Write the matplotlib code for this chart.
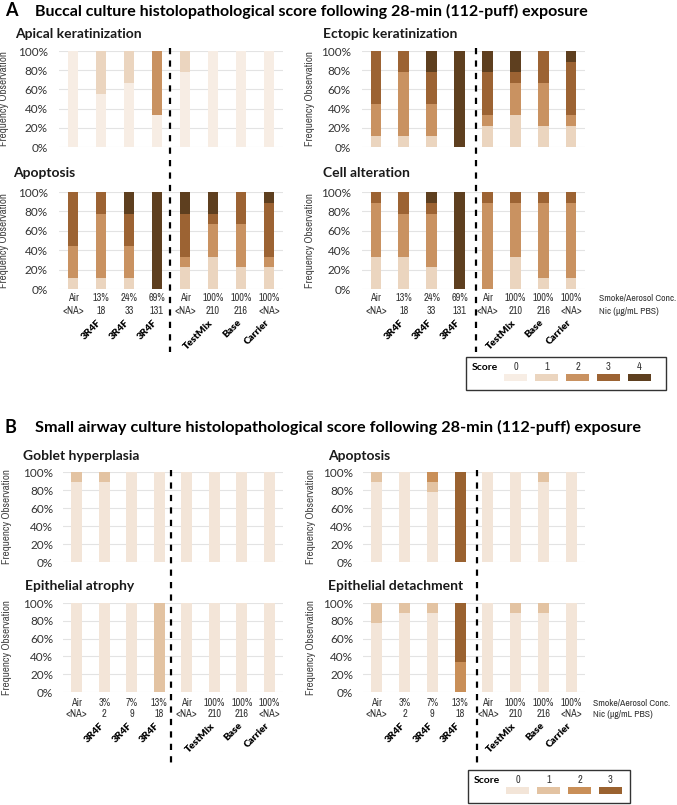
import os
import matplotlib
matplotlib.use("Agg")
import matplotlib.pyplot as plt
import numpy as np
from matplotlib import font_manager as fm
from matplotlib.patches import Rectangle
from matplotlib.lines import Line2D

# Counts of observations per score (0..4) for each bar, out of 9 inserts
buccal_apical = [[9, 0, 0, 0, 0], [5, 4, 0, 0, 0], [6, 3, 0, 0, 0], [3, 0, 6, 0, 0],
                 [7, 2, 0, 0, 0], [9, 0, 0, 0, 0], [9, 0, 0, 0, 0], [9, 0, 0, 0, 0]]
buccal_ectopic = [[0, 1, 3, 5, 0], [0, 1, 6, 2, 0], [0, 1, 3, 3, 2], [0, 0, 0, 0, 9],
                  [0, 2, 1, 4, 2], [0, 3, 3, 1, 2], [0, 2, 4, 3, 0], [0, 2, 1, 5, 1]]
buccal_apoptosis = [[0, 1, 3, 5, 0], [0, 1, 6, 2, 0], [0, 1, 3, 3, 2], [0, 0, 0, 0, 9],
                    [0, 2, 1, 4, 2], [0, 3, 3, 1, 2], [0, 2, 4, 3, 0], [0, 2, 1, 5, 1]]
buccal_cell_alt = [[0, 3, 5, 1, 0], [0, 3, 4, 2, 0], [0, 2, 5, 1, 1], [0, 0, 0, 0, 9],
                   [0, 0, 8, 1, 0], [0, 3, 5, 1, 0], [0, 1, 7, 1, 0], [0, 1, 7, 1, 0]]

# Counts per score (0..3) for the small airway culture
sa_goblet = [[8, 1, 0, 0], [8, 1, 0, 0], [9, 0, 0, 0], [9, 0, 0, 0],
             [9, 0, 0, 0], [9, 0, 0, 0], [9, 0, 0, 0], [9, 0, 0, 0]]
sa_apoptosis = [[8, 1, 0, 0], [9, 0, 0, 0], [7, 1, 1, 0], [0, 0, 0, 9],
                [9, 0, 0, 0], [9, 0, 0, 0], [8, 1, 0, 0], [9, 0, 0, 0]]
sa_atrophy = [[9, 0, 0, 0], [9, 0, 0, 0], [9, 0, 0, 0], [0, 9, 0, 0],
              [9, 0, 0, 0], [9, 0, 0, 0], [9, 0, 0, 0], [9, 0, 0, 0]]
sa_detachment = [[7, 2, 0, 0], [8, 1, 0, 0], [8, 1, 0, 0], [0, 0, 3, 6],
                 [9, 0, 0, 0], [8, 1, 0, 0], [8, 1, 0, 0], [9, 0, 0, 0]]

buccal_conc = ["Air", "13%", "24%", "69%", "Air", "100%", "100%", "100%"]
buccal_nic = ["<NA>", "18", "33", "131", "<NA>", "210", "216", "<NA>"]
sa_conc = ["Air", "3%", "7%", "13%", "Air", "100%", "100%", "100%"]
sa_nic = ["<NA>", "2", "9", "18", "<NA>", "210", "216", "<NA>"]
products = ["", "3R4F", "3R4F", "3R4F", "", "TestMix", "Base", "Carrier"]

buccal_colors = ["#F7EDE4", "#EBD5BF", "#C99261", "#9C6333", "#5E3F1F"]
sa_colors = ["#F3E5D8", "#E3C3A2", "#C98F58", "#9A6230"]

W, H = 677, 805
MAIN = ["Lato", "DejaVu Sans"]


def find_narrow():
    """Look for an installed condensed / narrow regular face"""
    best, best_rank = None, 99
    for f in fm.fontManager.ttflist:
        fn = os.path.basename(f.fname).lower()
        nm = f.name.lower()
        st = str(f.stretch).lower()
        if not ("condensed" in st or "condensed" in fn or "narrow" in fn
                or "narrow" in nm or "condensed" in nm):
            continue
        if f.style != "normal" or "italic" in fn:
            continue
        if any(k in fn for k in ("black", "heavy", "bold", "light", "thin",
                                 "medium")):
            continue
        w = f.weight if isinstance(f.weight, int) else fm.weight_dict.get(f.weight, 400)
        if not 350 <= w <= 450:
            continue
        rank = 0
        if "semi" in fn or "semi" in st:
            rank = 1
        if "extra" in fn or "ultra" in fn or "extra" in st or "ultra" in st:
            rank = 3
        if "dejavu" in fn:
            rank += 1
        if rank < best_rank:
            best, best_rank = f.fname, rank
    return best


NARROW_REG = find_narrow()


def narrow(size):
    if NARROW_REG is not None:
        return fm.FontProperties(fname=NARROW_REG, size=size)
    return fm.FontProperties(family="Roboto", size=size * 0.85)


fig = plt.figure(figsize=(W / 100, H / 100), dpi=100)


def px_axes(x0, y0, x1, y1):
    return fig.add_axes([x0 / W, 1 - y1 / H, (x1 - x0) / W, (y1 - y0) / H])


def ftext(x, y, s, **kw):
    fig.text(x / W, 1 - y / H, s, **kw)


def draw_panel(rect, counts, colors, title, title_xy, ylab_x, pad):
    """Stacked percentage bars for one histopathology endpoint"""
    ax = px_axes(*rect)
    c = np.array(counts, dtype=float)
    pct = c / c.sum(axis=1, keepdims=True) * 100
    x = np.arange(len(pct))
    bottom = np.zeros(len(pct))
    for s in range(pct.shape[1]):
        ax.bar(x, pct[:, s], bottom=bottom, width=0.39, color=colors[s],
               linewidth=0, zorder=2)
        bottom += pct[:, s]
    ax.set_xlim(-0.5, 7.5)
    ax.set_ylim(0, 100)
    ax.set_yticks(np.arange(0, 101, 20))
    ax.set_yticklabels(["{}%".format(v) for v in range(0, 101, 20)],
                       family=MAIN)
    ax.set_xticks([])
    ax.yaxis.grid(True, color="#E3E3E3", linewidth=0.8)
    ax.set_axisbelow(True)
    for sp in ax.spines.values():
        sp.set_visible(False)
    ax.tick_params(length=0, pad=pad, labelsize=8.5, labelcolor="#333333")
    ax.set_ylabel("Frequency Observation", fontproperties=narrow(8),
                  color="#444444")
    ax.yaxis.set_label_coords((ylab_x - rect[0]) / (rect[2] - rect[0]), 0.5)
    ftext(title_xy[0], title_xy[1], title, family=MAIN, fontweight="bold",
          fontsize=10, ha="left", va="center", color="#1a1a1a")
    return ax


def add_xlabels(ax, rect, conc, nic, y_rows, side=None):
    h = rect[3] - rect[1]
    tr = ax.get_xaxis_transform()
    for i in range(len(conc)):
        for lab, yp in zip([conc[i], nic[i]], y_rows[:2]):
            ax.text(i, (rect[3] - yp) / h, lab, transform=tr, ha="center",
                    va="center", fontproperties=narrow(7.4), color="#333333")
        if products[i]:
            ax.text(i + 0.08, (rect[3] - y_rows[2]) / h, products[i],
                    transform=tr, ha="right", va="top", rotation=45,
                    family=MAIN, fontweight="heavy", fontsize=7.2,
                    color="black")
    if side is not None:
        ftext(side, y_rows[0], "Smoke/Aerosol Conc.",
              fontproperties=narrow(7.0), ha="left", va="center",
              color="#333333")
        ftext(side, y_rows[1], "Nic (\u00b5g/mL PBS)",
              fontproperties=narrow(7.0), ha="left", va="center",
              color="#333333")


def dashed(x, y0, y1):
    fig.add_artist(Line2D([x / W, x / W], [1 - y0 / H, 1 - y1 / H],
                          transform=fig.transFigure, color="black",
                          linewidth=1.6, linestyle=(0, (2.8, 2.8))))


def score_legend(box, colors, centers):
    x0, y0, x1, y1 = box
    fig.add_artist(Rectangle((x0 / W, 1 - y1 / H), (x1 - x0) / W,
                             (y1 - y0) / H, transform=fig.transFigure,
                             fill=False, edgecolor="#333333", linewidth=1))
    ty = y0 + 10
    ftext(x0 + 6, ty, "Score", family=MAIN, fontweight="bold", fontsize=7.5,
          ha="left", va="center")
    for i, (col, cx) in enumerate(zip(colors, centers)):
        ftext(cx, ty, str(i), fontproperties=narrow(7.5), ha="center",
              va="center", color="#333333")
        fig.add_artist(Rectangle(((cx - 11.5) / W, 1 - (y0 + 24) / H),
                                 23 / W, 7 / H, transform=fig.transFigure,
                                 facecolor=col, edgecolor="none"))


# Panel A: buccal culture
ftext(5, 11, "A", family=MAIN, fontweight="bold", fontsize=13, ha="left",
      va="center")
ftext(35, 11, "Buccal culture histolopathological score following 28-min "
      "(112-puff) exposure", family=MAIN, fontweight="bold", fontsize=11.5,
      ha="left", va="center")

rA1 = (59, 51, 283, 147)
rA2 = (362, 51, 585, 147)
rA3 = (59, 192, 283, 289)
rA4 = (362, 192, 585, 289)
draw_panel(rA1, buccal_apical, buccal_colors, "Apical keratinization",
           (15, 34), 9, 8)
draw_panel(rA2, buccal_ectopic, buccal_colors, "Ectopic keratinization",
           (323, 34), 315, 8)
axA3 = draw_panel(rA3, buccal_apoptosis, buccal_colors, "Apoptosis",
                  (13, 173), 9, 8)
axA4 = draw_panel(rA4, buccal_cell_alt, buccal_colors, "Cell alteration",
                  (323, 173), 315, 8)
add_xlabels(axA3, rA3, buccal_conc, buccal_nic, (298, 311, 318))
add_xlabels(axA4, rA4, buccal_conc, buccal_nic, (298, 311, 318), side=599)
dashed(170, 48, 352)
dashed(476, 48, 352)
score_legend((466, 357, 666, 390), buccal_colors,
             [515.5 + 31 * i for i in range(5)])

# Panel B: small airway culture
ftext(5, 427, "B", family=MAIN, fontweight="bold", fontsize=13, ha="left",
      va="center")
ftext(35, 427, "Small airway culture histolopathological score following "
      "28-min (112-puff) exposure", family=MAIN, fontweight="bold",
      fontsize=11.7, ha="left", va="center")

rB1 = (63, 472, 283, 562)
rB2 = (363, 472, 585, 562)
rB3 = (63, 603, 283, 692)
rB4 = (363, 603, 585, 692)
draw_panel(rB1, sa_goblet, sa_colors, "Goblet hyperplasia", (23, 456), 12, 7)
draw_panel(rB2, sa_apoptosis, sa_colors, "Apoptosis", (328, 456), 316, 7)
axB3 = draw_panel(rB3, sa_atrophy, sa_colors, "Epithelial atrophy",
                  (25, 586), 12, 7)
axB4 = draw_panel(rB4, sa_detachment, sa_colors, "Epithelial detachment",
                  (328, 586), 316, 7)
add_xlabels(axB3, rB3, sa_conc, sa_nic, (703, 714, 721))
add_xlabels(axB4, rB4, sa_conc, sa_nic, (703, 714, 721), side=593)
dashed(171, 470, 764)
dashed(477, 470, 764)
score_legend((468, 770, 630, 803), sa_colors,
             [517.5 + 31 * i for i in range(4)])

fig.savefig("out.png", dpi=100)
